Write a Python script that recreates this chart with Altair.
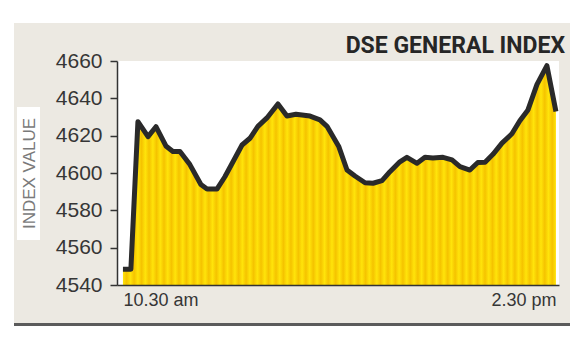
import altair as alt
import pandas as pd

# minutes after 10.30 am
minutes = [0, 4.4, 8.3, 13.9, 18.3, 23.8, 27.7, 31.6, 37.1, 43.2, 46.6, 52.1, 56.5,
           61.0, 66.0, 70.4, 74.8, 79.8, 85.9, 90.9, 95.9, 103.7, 109.2, 113.1,
           116.4, 119.7, 124.2, 128.6, 134.2, 138.6, 143.6, 148.0, 153.5, 157.4,
           163.0, 167.4, 171.8, 177.4, 182.4, 186.8, 192.3, 196.7, 200.7, 205.1,
           210.1, 215.6, 220.0, 224.5, 229.5, 235.0, 240.0]
index_values = [4548.5, 4548.5, 4627.5, 4619.5, 4624.8, 4614.5, 4611.5, 4611.5, 4604.5,
                4593.8, 4591.4, 4591.4, 4598.0, 4606.0, 4615.0, 4618.6, 4625.0, 4629.5,
                4637.0, 4630.5, 4631.5, 4630.5, 4628.5, 4625.0, 4619.5, 4614.0, 4601.6,
                4598.4, 4594.8, 4594.5, 4595.9, 4600.7, 4606.0, 4608.4, 4605.2, 4608.4,
                4608.0, 4608.4, 4607.0, 4603.4, 4601.6, 4605.6, 4605.8, 4610.0, 4616.0,
                4621.0, 4628.0, 4633.8, 4647.5, 4657.5, 4632.9]
y_ticks = [4540, 4560, 4580, 4600, 4620, 4640, 4660]
x_ticks = [0, 240]
x_tick_labels = ["10.30 am", "2.30 pm"]
title_text = "DSE GENERAL INDEX"
y_title = "INDEX VALUE"

df = pd.DataFrame({"t": minutes, "v": index_values})
one = pd.DataFrame({"k": [0]})

W, H = 442, 224
BEIGE = "#ECE9E2"
TXT = "#363636"

# vertical stripe gradient (style only)
n_stripes = 58
stops = []
for i in range(n_stripes):
    stops.append(alt.GradientStop(offset=i / n_stripes, color="#FFE40A"))
    stops.append(alt.GradientStop(offset=(i + 0.5) / n_stripes, color="#F5C300"))
stops.append(alt.GradientStop(offset=1.0, color="#FFE40A"))
stripes = alt.Gradient(gradient="linear", stops=stops, x1=0, x2=1, y1=0, y2=0)

label_expr = "datum.value < 120 ? '%s' : '%s'" % (x_tick_labels[0], x_tick_labels[1])

x_axis = alt.Axis(values=x_ticks, labelExpr=label_expr,
                  labelAlign={"condition": {"test": "datum.value < 120", "value": "left"}, "value": "right"},
                  ticks=False, labelPadding=6, labelFontSize=18, labelColor=TXT,
                  labelFont="Liberation Sans", domainColor="#333333", domainWidth=1.5,
                  grid=False, title=None, zindex=1, labelOverlap=False)
y_axis = alt.Axis(values=y_ticks, format="d", tickSize=7, tickColor="#333333", tickWidth=1.5,
                  labelPadding=8, labelFontSize=21, labelColor=TXT, labelOverlap=False,
                  labelFont="Liberation Sans", domainColor="#333333", domainWidth=1.5,
                  grid=False, title=y_title, titleAngle=270, titleX=-88, titleY=112,
                  titleAlign="center", titleBaseline="middle", titleFontSize=17,
                  titleFontWeight="normal", titleColor="#7a7a7a",
                  titleFont="Liberation Sans", zindex=1)
x_scale = alt.Scale(domain=[-3.3, 241.7], nice=False, zero=False)
y_scale = alt.Scale(domain=[4540, 4660], nice=False, zero=False)

x_enc = alt.X("t:Q", scale=x_scale, axis=x_axis)
y_enc = alt.Y("v:Q", scale=y_scale, axis=y_axis)

panel = alt.Chart(one).mark_rect(color=BEIGE).encode(
    x=alt.value(-103), x2=alt.value(453), y=alt.value(-38), y2=alt.value(262))
plotbg = alt.Chart(one).mark_rect(color="white").encode(
    x=alt.value(0), x2=alt.value(W), y=alt.value(0), y2=alt.value(H))
titlebox = alt.Chart(one).mark_rect(color="white").encode(
    x=alt.value(-100), x2=alt.value(-77), y=alt.value(46), y2=alt.value(179))
bottom_line = alt.Chart(one).mark_rect(color="#5b5b5b").encode(
    x=alt.value(-103), x2=alt.value(453), y=alt.value(262), y2=alt.value(265))

area = alt.Chart(df).mark_area(fill=stripes, interpolate="linear").encode(
    x=x_enc, y=y_enc, y2=alt.datum(4540))
line = alt.Chart(df).mark_line(color="#2a2a2a", strokeWidth=5, strokeJoin="round",
                               strokeCap="butt").encode(x=x_enc, y=y_enc)
title = alt.Chart(one).mark_text(text=title_text, align="right", baseline="alphabetic",
                                 font="Roboto", fontSize=23, fontWeight="bold",
                                 color="#262626").encode(x=alt.value(448), y=alt.value(-8))

chart = alt.layer(panel, plotbg, titlebox, bottom_line, area, line, title).properties(
    width=W, height=H,
    autosize=alt.AutoSizeParams(type="none"),
    padding={"left": 117, "top": 61, "right": 587 - 117 - W, "bottom": 337 - 61 - H},
    background="white",
).configure_view(stroke=None, fill="white")

chart.save("out.html", embed_options={"renderer": "svg", "actions": False})
